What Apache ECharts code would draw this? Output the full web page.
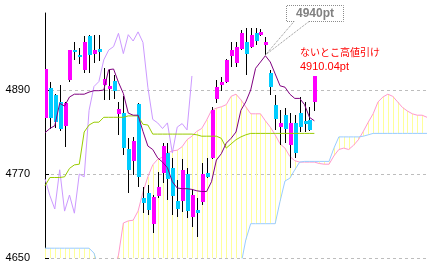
<!DOCTYPE html>
<html><head><meta charset="utf-8">
<script src="https://cdn.jsdelivr.net/npm/echarts@6/dist/echarts.min.js"></script>
<style>html,body{margin:0;padding:0;background:#fff}#c{width:433px;height:271px}</style>
</head><body><div id="c"></div>
<script>
// ---- data ----
const categories = Array.from({length: 79}, (_, i) => String(i + 1));
const yTicks = [4650, 4770, 4890];
const open  = [4850,4893,4883,4873,4839,4904,4947,4940,4919,4967,4942,4949,4897,4892,4903,4856,4857,4806,4788,4870,4736,4743,4699,4738,4771,4800,4779,4731,4731,4770,4708,4719,4730,4771,4793,4877,4897,4902,4938,4929,4949,4958,4952,4972,4969,4954,4915,4869,4837,4854,4811,4843,4857,4846,4847,4873];
const close = [4920,4850,4844,4834,4871,4947,4945,4937,4959,4940,4947,4945,4906,4896,4888,4863,4807,4776,4817,4766,4729,4719,4737,4751,4810,4763,4739,4720,4776,4717,4740,4714,4770,4766,4861,4895,4902,4933,4947,4952,4971,4942,4969,4960,4973,4958,4894,4848,4843,4835,4843,4800,4837,4842,4833,4910.04];
const low   = [4848,4834,4836,4832,4809,4902,4933,4927,4915,4914,4929,4931,4876,4876,4877,4826,4797,4743,4769,4751,4714,4711,4686,4736,4757,4733,4711,4709,4716,4707,4694,4680,4726,4765,4791,4872,4888,4900,4923,4923,4947,4911,4950,4954,4967,4940,4883,4833,4811,4815,4778,4793,4830,4830,4831,4860];
const high  = [4923,4902,4884,4897,4873,4947,4959,4950,4967,4968,4969,4969,4921,4919,4911,4873,4881,4821,4823,4871,4752,4754,4740,4773,4814,4814,4793,4761,4791,4779,4749,4736,4786,4793,4866,4904,4909,4934,4958,4959,4976,4979,4978,4978,4977,4966,4919,4883,4862,4865,4857,4854,4880,4873,4866,4910.04];
const tenkan = [4829,4835,4839,4871,4867,4880,4884,4884,4884,4887,4889,4889,4890,4919,4920,4901,4885,4857,4854,4854,4831,4810,4805,4793,4787,4779,4759,4750,4749,4749,4748,4746,4745,4745,4759,4790,4799,4814,4821,4830,4861,4873,4890,4921,4930,4939,4930,4913,4896,4894,4884,4878,4878,4869,4851,4846];
const kijun = [4753,4765,4765,4765,4766,4778,4783,4784,4830,4840,4844,4844,4851,4851,4851,4851,4851,4853,4853,4853,4841,4840,4827,4827,4827,4827,4827,4827,4827,4827,4827,4826,4824,4824,4824,4824,4821,4807,4813,4819,4823,4826,4828,4828,4828,4828,4828,4828,4828,4828,4828,4828,4828,4828,4828,4828];
const chikou = [4763,4739,4720,4776,4717,4740,4714,4770,4766,4861,4895,4902,4933,4947,4952,4971,4942,4969,4960,4973,4958,4894,4848,4843,4835,4843,4800,4837,4842,4833,4910.04];
const senkouA = [4610,4612,4615,4615,4618,4620,4620,4622,4625,4625,4626,4628,4628,4630,4632,4654,4700,4703,4704,4717,4744,4766,4783,4791,4794,4800,4803,4804,4809,4819,4824,4831,4835,4847,4861,4864,4866,4869,4881,4884,4876,4866,4856,4856,4856,4846,4837,4826,4813,4807,4795,4789,4787,4787,4787,4787,4785,4784,4784,4796,4805,4807,4805,4811,4819,4831,4844,4856,4873,4880,4884,4881,4873,4865,4860,4856,4854,4854,4851];
const senkouB = [4664,4664,4664,4664,4664,4664,4664,4664,4664,4664,4657,4635,4630,4628,4626,4624,4622,4620,4620,4620,4620,4620,4620,4620,4620,4620,4620,4620,4620,4620,4620,4622,4624,4626,4628,4630,4632,4634,4636,4638,4640,4676,4699,4699,4699,4699,4699,4699,4731,4760,4764,4776,4787,4788,4788,4788,4788,4788,4788,4807,4823,4823,4823,4823,4823,4824,4826,4828,4828,4828,4828,4828,4828,4828,4828,4828,4828,4828,4828];
const peakIndex = 45, peakValue = 4940;
const noteText = 'ないとこ高値引け';

// ---- chart ----
const chart = echarts.init(document.getElementById('c'), null, {renderer: 'canvas'});
const candleData = open.map((o, i) => [i, o, close[i], low[i], high[i]]);
const cloudData = senkouA.map((a, i) => [i, a, senkouB[i]]);

function renderCandle(params, api) {
  const i = api.value(0), o = api.value(1), c = api.value(2), l = api.value(3), h = api.value(4);
  const pO = api.coord([i, o]), pC = api.coord([i, c]), pL = api.coord([i, l]), pH = api.coord([i, h]);
  const cx = Math.round(pO[0]);
  const top = Math.round(Math.min(pO[1], pC[1]));
  const bot = Math.round(Math.max(pO[1], pC[1]));
  return {type: 'group', children: [
    {type: 'line', shape: {x1: cx + 0.5, y1: Math.round(pH[1]), x2: cx + 0.5, y2: Math.round(pL[1])}, style: {stroke: '#000', lineWidth: 1}},
    {type: 'rect', shape: {x: cx - 1, y: top, width: 4, height: Math.max(bot - top, 1)}, style: {fill: c >= o ? '#ff00ff' : '#00ccff'}}
  ]};
}
function renderCloud(params, api) {
  const i = api.value(0), a = api.value(1), b = api.value(2);
  const pa = api.coord([i, a]), pb = api.coord([i, b]);
  const cs = params.coordSys;
  let y1 = Math.max(Math.min(pa[1], pb[1]), cs.y);
  let y2 = Math.min(Math.max(pa[1], pb[1]), cs.y + cs.height);
  if (y2 <= y1) return null;
  const x = Math.round(pa[0]) + 0.5;
  return {type: 'line', shape: {x1: x, y1: y1, x2: x, y2: y2}, style: {stroke: '#ffff99', lineWidth: 1}};
}
const lineS = (name, data, color, z) => ({
  name, type: 'line', data, showSymbol: false, symbol: 'none', smooth: false, z,
  lineStyle: {color, width: 1}, clip: true, animation: false, silent: true
});

chart.setOption({
  animation: false,
  backgroundColor: '#fff',
  grid: {left: 45, right: 6, top: 13, bottom: 13, containLabel: false, outerBoundsMode: 'none'},
  xAxis: {type: 'category', data: categories, boundaryGap: false,
    axisLine: {show: false}, axisTick: {show: false}, axisLabel: {show: false}, splitLine: {show: false}},
  yAxis: {type: 'value', min: 4650, max: 5000, interval: 120,
    axisLine: {show: true, lineStyle: {color: '#000', width: 1}},
    axisTick: {show: true, inside: true, length: 4, lineStyle: {color: '#000'}, customValues: yTicks},
    axisLabel: {show: true, color: '#000', fontSize: 11, fontFamily: 'Liberation Sans', margin: 15, customValues: yTicks,
      formatter: v => String(v)},
    splitLine: {show: true, lineStyle: {color: '#bdbdbd', type: [3, 3], width: 1}}},
  series: [
    {type: 'custom', name: 'cloud', data: cloudData, renderItem: renderCloud, clip: true, z: 1, silent: true},
    lineS('senkouA', senkouA, '#ff99cc', 2),
    lineS('senkouB', senkouB, '#99ccff', 2),
    {type: 'custom', name: 'candles', data: candleData, renderItem: renderCandle, clip: true, z: 3, silent: true},
    lineS('chikou', chikou, '#cc99ff', 4),
    lineS('kijun', kijun, '#99cc00', 4),
    lineS('tenkan', tenkan, '#800080', 5)
  ]
});

const tip = chart.convertToPixel({xAxisIndex: 0, yAxisIndex: 0}, [peakIndex, peakValue]);
const dotted = {stroke: '#8c8c8c', lineWidth: 1, lineDash: [1, 1], fill: null};
chart.setOption({
  graphic: [
    {type: 'polyline', shape: {points: [[294, 21.5], [286.5, 21.5], [286.5, 5.5], [343.5, 5.5], [343.5, 21.5], [309, 21.5]]}, style: dotted, z: 100},
    {type: 'polyline', shape: {points: [[294, 21.5], [tip[0], tip[1]], [309, 21.5]]}, style: dotted, z: 100},
    {type: 'text', x: 315, y: 14, style: {text: peakValue + 'pt', font: 'bold 12px "Liberation Sans"', fill: '#808080', align: 'center', verticalAlign: 'middle'}, z: 100},
    {type: 'text', x: 300, y: 52.5, style: {text: noteText, font: '10px "Noto Sans CJK JP"', fill: '#ff0000', verticalAlign: 'middle'}, z: 100},
    {type: 'text', x: 300, y: 67, style: {text: close[close.length - 1].toFixed(2) + 'pt', font: '11px "Liberation Sans"', fill: '#ff0000', verticalAlign: 'middle'}, z: 100}
  ]
});
</script></body></html>
